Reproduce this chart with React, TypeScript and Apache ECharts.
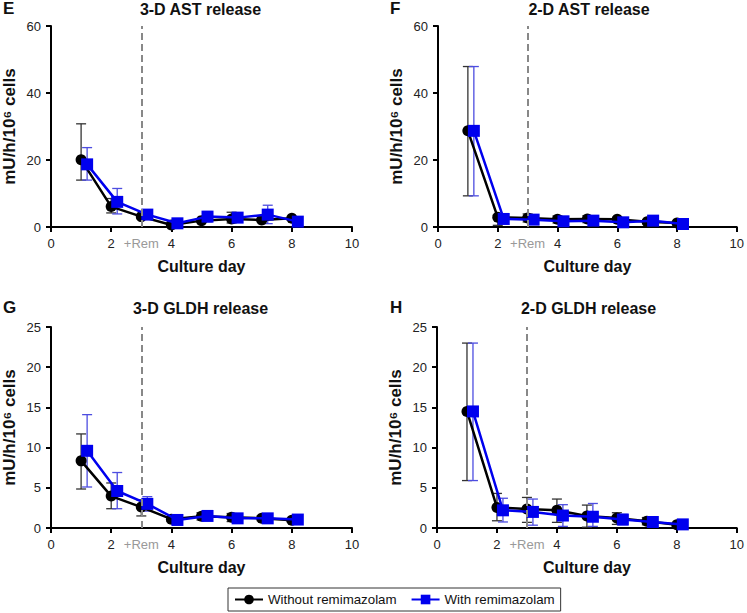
import React, { useEffect, useRef } from "react";
import * as echarts from "echarts";

// ---- data ----
const daysWithout = [1, 2, 3, 4, 5, 6, 7, 8];
const daysWith = [1.2, 2.2, 3.2, 4.2, 5.2, 6.2, 7.2, 8.2];
const xTickValues = [0, 2, 4, 6, 8, 10];
const xLabelValues = [0, 2, 3, 4, 6, 8, 10];
const remDay = 3;

// E: 3-D AST
const eWithout = [20.1, 6.1, 3.1, 0.6, 1.9, 2.4, 2.1, 2.6];
const eWithoutErr = [[14.0, 30.8], [4.2, 8.5], [2.5, 3.6], [0.1, 1.4], [1.4, 2.4], [1.2, 4.4], [1.6, 2.6], [2.0, 3.0]];
const eWith = [18.7, 7.5, 3.7, 1.1, 3.1, 2.8, 3.7, 1.6];
const eWithErr = [[14.0, 23.7], [3.9, 11.5], [3.0, 4.3], [0.6, 1.5], [1.5, 4.6], [2.0, 3.6], [1.0, 6.5], [1.1, 2.0]];

// F: 2-D AST
const fWithout = [28.7, 2.9, 2.7, 2.3, 2.4, 2.3, 1.6, 1.2];
const fWithoutErr = [[9.3, 47.9], [0.5, 3.5], [1.5, 3.9], [1.2, 3.3], [1.3, 3.4], [1.6, 2.9], [1.0, 2.2], [0.8, 1.6]];
const fWith = [28.7, 2.4, 2.2, 1.7, 1.9, 1.4, 1.9, 0.9];
const fWithErr = [[9.3, 47.9], [1.2, 3.6], [1.0, 3.4], [0.8, 2.6], [0.8, 3.0], [0.8, 2.0], [1.2, 2.6], [0.5, 1.3]];

// G: 3-D GLDH
const gWithout = [8.35, 3.97, 2.6, 1.1, 1.45, 1.35, 1.2, 0.95];
const gWithoutErr = [[4.85, 11.7], [2.4, 5.6], [1.5, 3.5], [0.8, 1.4], [1.0, 1.9], [0.8, 1.8], [0.9, 1.5], [0.8, 1.1]];
const gWith = [9.6, 4.6, 3.0, 1.0, 1.5, 1.2, 1.2, 1.05];
const gWithErr = [[5.1, 14.1], [2.4, 6.9], [2.1, 3.9], [0.8, 1.2], [1.2, 1.8], [0.7, 1.7], [1.0, 1.4], [0.9, 1.2]];

// H: 2-D GLDH
const hWithout = [14.5, 2.56, 2.35, 2.2, 1.5, 1.25, 0.85, 0.4];
const hWithoutErr = [[5.9, 23.0], [0.9, 4.3], [0.7, 3.8], [0.7, 3.6], [0.1, 2.85], [0.45, 1.9], [0.4, 1.3], [0.2, 0.6]];
const hWith = [14.5, 2.2, 2.0, 1.55, 1.4, 1.05, 0.75, 0.45];
const hWithErr = [[5.9, 23.0], [0.75, 3.7], [0.35, 3.6], [0.2, 2.9], [0.2, 3.05], [0.4, 1.7], [0.3, 1.3], [0.3, 0.6]];

const panels = [
  { letter: "E", title: "3-D AST release", yMax: 60, yInterval: 20, without: eWithout, withoutErr: eWithoutErr, with: eWith, withErr: eWithErr },
  { letter: "F", title: "2-D AST release", yMax: 60, yInterval: 20, without: fWithout, withoutErr: fWithoutErr, with: fWith, withErr: fWithErr },
  { letter: "G", title: "3-D GLDH release", yMax: 25, yInterval: 5, without: gWithout, withoutErr: gWithoutErr, with: gWith, withErr: gWithErr },
  { letter: "H", title: "2-D GLDH release", yMax: 25, yInterval: 5, without: hWithout, withoutErr: hWithoutErr, with: hWith, withErr: hWithErr },
];

const NAME_WITHOUT = "Without remimazolam";
const NAME_WITH = "With remimazolam";

// ---- layout / style ----
const FONT = "'Liberation Sans', Arial, Helvetica, sans-serif";
const gridBoxes = [
  { left: 49, top: 26, width: 303, height: 201, titleTop: 1, letterLeft: 3 },
  { left: 438, top: 26, width: 302, height: 201, titleTop: 1, letterLeft: 390 },
  { left: 49, top: 327, width: 303, height: 201, titleTop: 300, letterLeft: 3 },
  { left: 437, top: 327, width: 303, height: 201, titleTop: 300, letterLeft: 390 },
];
const BLACK = "#000000";
const BLUE = "#0000ee";
const BLACK_ERR = "#333333";
const BLUE_ERR = "#4d4de0";

function errorRenderer(color: string) {
  return (params: any, api: any) => {
    const x = api.value(0);
    const lo = api.value(1);
    const hi = api.value(2);
    const p1 = api.coord([x, lo]);
    const p2 = api.coord([x, hi]);
    const w = 5;
    const style = { stroke: color, lineWidth: 1.3 };
    return {
      type: "group",
      children: [
        { type: "line", shape: { x1: p1[0], y1: p1[1], x2: p2[0], y2: p2[1] }, style },
        { type: "line", shape: { x1: p1[0] - w, y1: p1[1], x2: p1[0] + w, y2: p1[1] }, style },
        { type: "line", shape: { x1: p2[0] - w, y1: p2[1], x2: p2[0] + w, y2: p2[1] }, style },
      ],
    };
  };
}

function buildOption() {
  const grid: any[] = [];
  const xAxis: any[] = [];
  const yAxis: any[] = [];
  const title: any[] = [];
  const series: any[] = [];

  panels.forEach((p, i) => {
    const g = gridBoxes[i];
    grid.push({ left: g.left, top: g.top, width: g.width, height: g.height, containLabel: false });
    title.push({
      text: p.title,
      left: g.left + g.width / 2,
      top: g.titleTop,
      textAlign: "center",
      padding: 0,
      textStyle: { fontFamily: FONT, fontSize: 16, fontWeight: "bold", color: "#111" },
    });
    title.push({
      text: p.letter,
      left: g.letterLeft,
      top: g.titleTop - 1,
      padding: 0,
      textStyle: { fontFamily: FONT, fontSize: 17, fontWeight: "bold", color: "#111" },
    });
    xAxis.push({
      type: "value",
      gridIndex: i,
      min: 0,
      max: 10,
      interval: 2,
      name: "Culture day",
      nameLocation: "middle",
      nameGap: 31,
      nameTextStyle: { fontFamily: FONT, fontSize: 16, fontWeight: "bold", color: "#111" },
      axisLine: { show: true, onZero: false, lineStyle: { color: BLACK, width: 2 } },
      axisTick: { show: true, inside: false, length: 5, lineStyle: { color: BLACK, width: 2 }, customValues: xTickValues },
      axisLabel: {
        fontFamily: FONT,
        fontSize: 13,
        color: "#222",
        margin: 10,
        customValues: xLabelValues,
        formatter: (v: number) => (v === remDay ? "{rem|+Rem}" : String(v)),
        rich: { rem: { fontFamily: FONT, fontSize: 13, color: "#999999" } },
      },
      splitLine: { show: false },
    });
    yAxis.push({
      type: "value",
      gridIndex: i,
      min: 0,
      max: p.yMax,
      interval: p.yInterval,
      name: "mU/h/10⁶ cells",
      nameLocation: "middle",
      nameGap: 33,
      nameTextStyle: { fontFamily: FONT, fontSize: 17, fontWeight: "bold", color: "#111" },
      axisLine: { show: true, lineStyle: { color: BLACK, width: 2 } },
      axisTick: { show: true, inside: false, length: 5, lineStyle: { color: BLACK, width: 2 } },
      axisLabel: { fontFamily: FONT, fontSize: 13, color: "#222", margin: 10 },
      splitLine: { show: false },
    });

    series.push({
      type: "custom",
      name: "errWithout" + i,
      xAxisIndex: i,
      yAxisIndex: i,
      z: 2,
      renderItem: errorRenderer(BLACK_ERR),
      encode: { x: 0, y: [1, 2] },
      data: daysWithout.map((d, k) => [d, p.withoutErr[k][0], p.withoutErr[k][1]]),
      silent: true,
    });
    series.push({
      type: "custom",
      name: "errWith" + i,
      xAxisIndex: i,
      yAxisIndex: i,
      z: 2,
      renderItem: errorRenderer(BLUE_ERR),
      encode: { x: 0, y: [1, 2] },
      data: daysWith.map((d, k) => [d, p.withErr[k][0], p.withErr[k][1]]),
      silent: true,
    });
    series.push({
      type: "line",
      name: NAME_WITHOUT,
      xAxisIndex: i,
      yAxisIndex: i,
      z: 3,
      symbol: "circle",
      symbolSize: 11,
      itemStyle: { color: BLACK },
      lineStyle: { color: BLACK, width: 2.5 },
      data: daysWithout.map((d, k) => [d, p.without[k]]),
      markLine: {
        silent: true,
        symbol: "none",
        label: { show: false },
        lineStyle: { type: [7, 4], color: "#888888", width: 2 },
        data: [{ xAxis: remDay }],
      },
    });
    series.push({
      type: "line",
      name: NAME_WITH,
      xAxisIndex: i,
      yAxisIndex: i,
      z: 4,
      symbol: "rect",
      symbolSize: 12,
      itemStyle: { color: BLUE },
      lineStyle: { color: BLUE, width: 2.5 },
      data: daysWith.map((d, k) => [d, p.with[k]]),
    });
  });

  return {
    animation: false,
    backgroundColor: "#ffffff",
    textStyle: { fontFamily: FONT },
    title,
    grid,
    xAxis,
    yAxis,
    legend: {
      data: [NAME_WITHOUT, NAME_WITH],
      left: 228,
      top: 588,
      orient: "horizontal",
      borderColor: "#333333",
      borderWidth: 1,
      padding: [5, 6, 5, 6],
      itemGap: 14,
      itemWidth: 28,
      itemHeight: 12,
      textStyle: { fontFamily: FONT, fontSize: 13.3, color: "#111" },
      selectedMode: false,
    },
    series,
  };
}

export default function App() {
  const ref = useRef<HTMLDivElement>(null);
  useEffect(() => {
    if (!ref.current) return;
    const chart = echarts.init(ref.current, null, { renderer: "svg" });
    chart.setOption(buildOption() as any);
    return () => chart.dispose();
  }, []);
  return (
    <div
      ref={ref}
      style={{ position: "absolute", left: 0, top: 0, width: 747, height: 613, background: "#fff" }}
    />
  );
}
